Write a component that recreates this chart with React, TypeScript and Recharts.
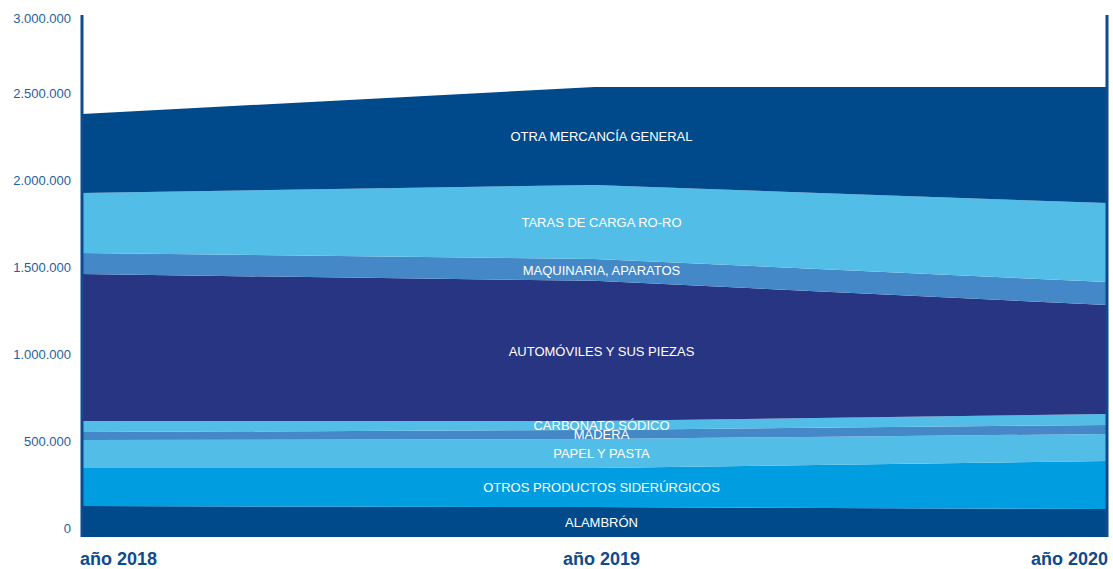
import { ComposedChart, Area, Line, XAxis, YAxis, LabelList, ReferenceLine } from "recharts";

const years = ["año 2018", "año 2019", "año 2020"];

// bottom to top, as stacked
const seriesNames = [
  "ALAMBRÓN",
  "OTROS PRODUCTOS SIDERÚRGICOS",
  "PAPEL Y PASTA",
  "MADERA",
  "CARBONATO SÓDICO",
  "AUTOMÓVILES Y SUS PIEZAS",
  "MAQUINARIA, APARATOS",
  "TARAS DE CARGA RO-RO",
  "OTRA MERCANCÍA GENERAL",
];

const alambron = [178000, 172000, 161000];
const otrosSiderurgicos = [218000, 224000, 276000];
const papelPasta = [161000, 167000, 155000];
const madera = [46000, 52000, 52000];
const carbonato = [63000, 52000, 63000];
const automoviles = [845000, 805000, 626000];
const maquinaria = [121000, 126000, 132000];
const taras = [345000, 425000, 454000];
const otraMercancia = [454000, 563000, 667000];

const series = [
  alambron,
  otrosSiderurgicos,
  papelPasta,
  madera,
  carbonato,
  automoviles,
  maquinaria,
  taras,
  otraMercancia,
];

const colors = [
  "#004a8c",
  "#009ee0",
  "#52bee8",
  "#4588c8",
  "#52bee8",
  "#283582",
  "#4588c8",
  "#52bee8",
  "#004a8c",
];

const yTicks = [0, 500000, 1000000, 1500000, 2000000, 2500000, 3000000];

const data = years.map((year, i) => {
  const row: Record<string, string | number> = { year };
  let base = 0;
  series.forEach((s, k) => {
    row[`s${k}`] = s[i];
    row[`m${k}`] = base + s[i] / 2;
    base += s[i];
  });
  return row;
});

const formatTick = (v: number) =>
  v === 0 ? "0" : v.toString().replace(/\B(?=(\d{3})+(?!\d))/g, ".");

const AXIS = "#0d4a8f";

const YearTick = (props: any) => {
  const { x, y, payload, index } = props;
  const anchor = index === 0 ? "start" : index === 2 ? "end" : "middle";
  const shift = index === 0 ? -2 : index === 2 ? 1 : 7;
  return (
    <text
      x={x + shift}
      y={y + 20}
      textAnchor={anchor}
      fill={AXIS}
      fontSize={18}
      fontWeight="bold"
      fontFamily="Liberation Sans, Arial, sans-serif"
    >
      {payload.value}
    </text>
  );
};

// labels sit a little above their tick; the top one is kept inside the frame
const ValueTick = (props: any) => {
  const { x, y, payload } = props;
  return (
    <text
      x={x}
      y={Math.max(y - 9, 18)}
      dy="0.355em"
      textAnchor="end"
      fill="#23609f"
      fontSize={13}
      fontFamily="Liberation Sans, Arial, sans-serif"
    >
      {formatTick(payload.value)}
    </text>
  );
};

const bandLabel = (name: string) => (props: any) => {
  const { x, y, index } = props;
  if (index !== 1) return null;
  return (
    <text
      x={x + 7}
      y={y}
      dy="0.355em"
      textAnchor="middle"
      fill="#ffffff"
      fontSize={13}
      fontFamily="Liberation Sans, Arial, sans-serif"
    >
      {name}
    </text>
  );
};

export default function App() {
  return (
    <div style={{ position: "fixed", top: 0, left: 0, width: 1113, height: 569, background: "#fff" }}>
      <ComposedChart
        width={1113}
        height={569}
        data={data}
        margin={{ top: 15, right: 6, bottom: 0, left: 8 }}
      >
        <XAxis
          dataKey="year"
          tick={<YearTick />}
          tickLine={false}
          axisLine={false}
          height={32}
          interval={0}
        />
        <YAxis
          width={74}
          type="number"
          domain={[0, 3000000]}
          ticks={yTicks}
          allowDataOverflow
          interval={0}
          tickLine={false}
          tickSize={6}
          tickMargin={5}
          axisLine={{ stroke: AXIS, strokeWidth: 3 }}
          tick={<ValueTick />}
        />
        {series.map((_, k) => (
          <Area
            key={`a${k}`}
            dataKey={`s${k}`}
            stackId="1"
            type="linear"
            fill={colors[k]}
            fillOpacity={1}
            stroke="none"
            isAnimationActive={false}
          />
        ))}
        <ReferenceLine x={years[2]} stroke={AXIS} strokeWidth={3} ifOverflow="visible" />
        {series.map((_, k) => (
          <Line
            key={`l${k}`}
            dataKey={`m${k}`}
            stroke="none"
            dot={false}
            activeDot={false}
            isAnimationActive={false}
          >
            <LabelList content={bandLabel(seriesNames[k])} />
          </Line>
        ))}
      </ComposedChart>
    </div>
  );
}
